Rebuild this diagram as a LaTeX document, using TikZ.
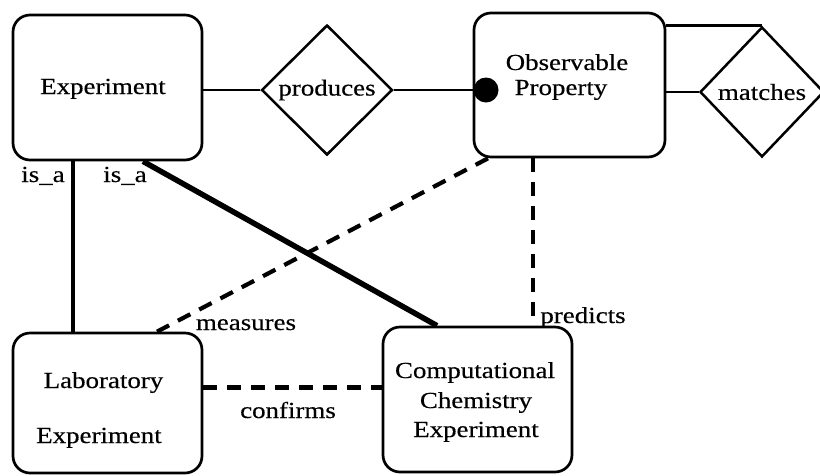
\documentclass[tikz,border=0pt]{standalone}
\usepackage{fontspec}
\setmainfont[FakeStretch=1.17,FakeBold=0.4]{Liberation Serif}
\usetikzlibrary{shapes.geometric}
\begin{document}
\begin{tikzpicture}[x=1pt,y=-1pt,
  font=\fontsize{23}{27}\selectfont,
  entity/.style={draw, line width=2.7pt, rounded corners=17pt, rectangle, inner sep=0pt},
  relation/.style={draw, line width=2.5pt, diamond, inner sep=0pt},
  txt/.style={anchor=base, inner sep=0pt},
  link/.style={line width=2.8pt},
  isalink/.style={line width=3.4pt},
  heavy/.style={line width=5.5pt},
  dashlink/.style={line width=4.2pt, dash pattern=on 14pt off 10pt},
]
\useasboundingbox (0,0) rectangle (820,475);

% entities
\node[entity, minimum width=189pt, minimum height=145pt] (exp) at (107.5,87.5) {};
\node[entity, minimum width=191pt, minimum height=144pt] (obs) at (569.5,85) {};
\node[entity, minimum width=189pt, minimum height=140pt] (lab) at (107.5,403) {};
\node[entity, minimum width=189pt, minimum height=145pt] (comp) at (477.5,399.5) {};

% entity names
\node[txt] (expname) at (103,94) {Experiment};
\node[txt] (obsname1) at (567,70) {Observable};
\node[txt] (obsname2) at (561,95) {Property};
\node[txt] (labname1) at (103.5,388) {Laboratory};
\node[txt] (labname2) at (99,443) {Experiment};
\node[txt] (compname1) at (475,378) {Computational};
\node[txt] (compname2) at (476,408) {Chemistry};
\node[txt] (compname3) at (476,437) {Experiment};

% relationships
\node[relation, minimum width=131pt, minimum height=130pt] (prod) at (327,90) {produces};
\node[relation, minimum width=124pt, minimum height=130pt] (match) at (762,92) {matches};

% participation dot on Observable Property
\node[circle, fill=black, inner sep=0pt, minimum size=25pt] (dot) at (486,90) {};

% produces
\draw[link] (prod.west) -- (prod.west -| exp.east);
\draw[link] (prod.east) -- (dot.center);

% matches (recursive)
\draw[link] (match.west) -- (match.west -| obs.east);
\draw[link] (match.north) -- (match.north -| obs.east);

% is_a links
\draw[isalink] ([xshift=-34.5pt]exp.south) -- ([xshift=-34.5pt]exp.south |- lab.north);
\draw[heavy] ([xshift=35.5pt]exp.south) -- ([xshift=-40.5pt]comp.north);
\node[txt] (isa1) at (43,182) {is\_a};
\node[txt] (isa2) at (125,182) {is\_a};

% dashed relationships
\draw[dashlink] ([xshift=-81.5pt]obs.south) -- ([xshift=49.5pt]lab.north);
\draw[dashlink] ([xshift=-36.5pt]obs.south) -- ([xshift=-36.5pt]obs.south |- comp.north);
\draw[dashlink] ([yshift=15.5pt]lab.east) -- ([yshift=15.5pt]lab.east -| comp.west);

\node[txt] (meas) at (246,330) {measures};
\node[txt] (pred) at (583,323) {predicts};
\node[txt] (conf) at (288,418) {confirms};
\end{tikzpicture}
\end{document}
